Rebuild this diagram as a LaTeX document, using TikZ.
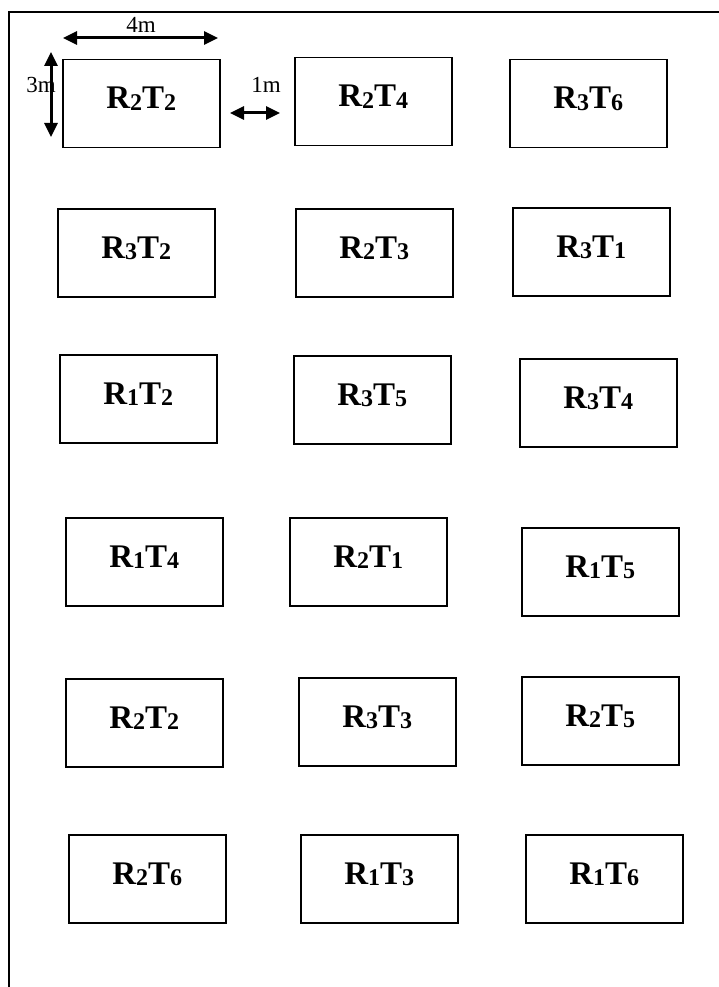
\documentclass[tikz,border=0pt]{standalone}
\usepackage{fontspec}
\setmainfont{Liberation Serif}
\usetikzlibrary{arrows.meta}

% plot label: bold R_i T_j with Word-style subscripts
\newcommand\subdigit[1]{\raisebox{-1.5pt}{\fontsize{24}{24}\selectfont #1}}
\newcommand\plotlbl[2]{\fontsize{33}{33}\selectfont\bfseries R\subdigit{#1}T\subdigit{#2}}

\begin{document}
\begin{tikzpicture}[x=1pt,y=-1pt,
  plotbox/.style={draw, line width=1.5pt, minimum width=157pt, minimum height=88pt,
    inner sep=0pt, anchor=north west},
  plottext/.style={anchor=base, inner sep=0pt},
  dimarrow/.style={line width=3pt, {Triangle[length=14pt,width=13pt]}-{Triangle[length=14pt,width=13pt]}},
  dimtext/.style={inner sep=0pt, font=\fontsize{23}{23}\selectfont},
  frame/.style={line width=2.5pt}]
\useasboundingbox (0,0) rectangle (718,987);

% field border (left and top edges)
\draw[frame] (9,995) -- (9,12) -- (725,12);

% plots: name / top-left corner / treatment label
\foreach \n/\x/\y/\r/\t in {
  a/62/59/2/2, b/294/57/2/4, c/509/59/3/6,
  d/57/208/3/2, e/295/208/2/3, f/512/207/3/1,
  g/59/354/1/2, h/293/355/3/5, i/519/358/3/4,
  j/65/517/1/4, k/289/517/2/1, l/521/527/1/5,
  m/65/678/2/2, n/298/677/3/3, o/521/676/2/5,
  p/68/834/2/6, q/300/834/1/3, r/525/834/1/6}{
  \node[plotbox] (\n) at (\x,\y) {};
  \node[plottext] (\n-lbl) at ([yshift=-50pt]\n.north) {\plotlbl{\r}{\t}};
}

% plot dimensions and spacing
\coordinate (w1) at (63,38);
\coordinate (w2) at (218,38);
\draw[dimarrow] (w1) -- (w2);
\node[dimtext, anchor=base] (wl) at (141,33) {4m};

\coordinate (h1) at (51,52);
\coordinate (h2) at (51,137);
\draw[dimarrow] (h1) -- (h2);
\node[dimtext, anchor=base east] (hl) at (56,93) {3m};

\coordinate (s1) at (230,113);
\coordinate (s2) at (280,113);
\draw[dimarrow] (s1) -- (s2);
\node[dimtext, anchor=base east] (sl) at (281,93) {1m};
\end{tikzpicture}
\end{document}
